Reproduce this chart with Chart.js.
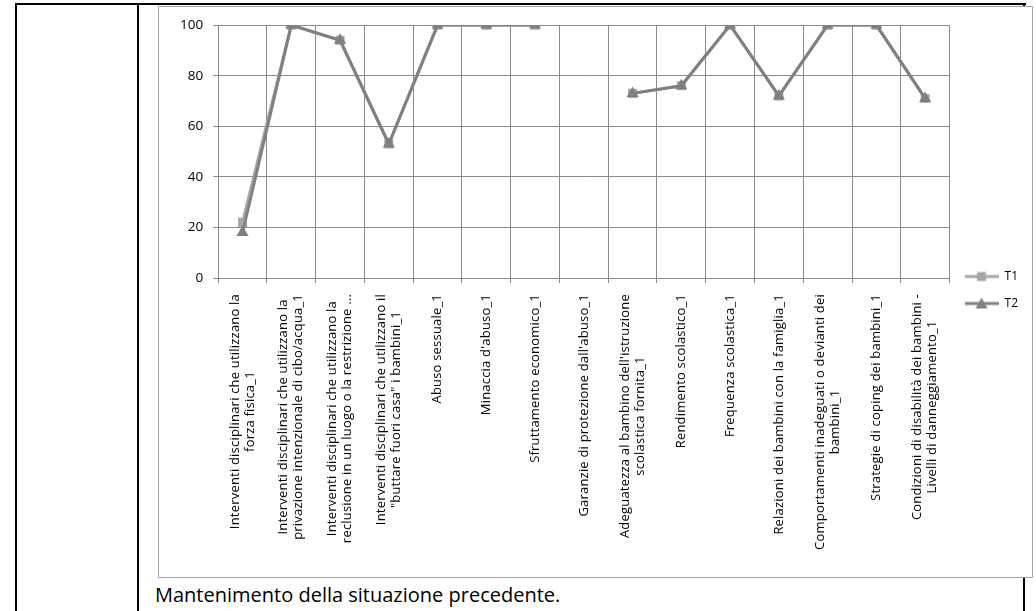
<!DOCTYPE html>
<html>
<head>
<meta charset="utf-8">
<script src="https://cdn.jsdelivr.net/npm/chart.js@4.4.1/dist/chart.umd.min.js"></script>
<style>
  html, body { margin: 0; padding: 0; background: #fff; }
  body { width: 1036px; height: 611px; position: relative; overflow: hidden; font-family: 'Open Sans', sans-serif; }
  .rule { position: absolute; background: #000; }
  #box { position: absolute; left: 158px; top: 6px; width: 873px; height: 570px; border: 1px solid #a6a6a6; background: #fff; }
  #caption { position: absolute; left: 155px; top: 581px; font-size: 20px; color: #000; white-space: nowrap; }
</style>
</head>
<body>
<div class="rule" style="left:15px;top:3px;width:1011px;height:2px"></div>
<div class="rule" style="left:15px;top:3px;width:2px;height:608px"></div>
<div class="rule" style="left:137px;top:3px;width:2px;height:608px"></div>
<div class="rule" style="left:1023px;top:3px;width:2px;height:608px"></div>
<div id="box"><canvas id="lineChart"></canvas></div>
<div id="caption">Mantenimento della situazione precedente.</div>
<script>
// categorie (etichette asse X, già spezzate su più righe come nel grafico originale)
const categories = [
    ['Interventi disciplinari che utilizzano la', 'forza fisica_1'],
    ['Interventi disciplinari che utilizzano la', 'privazione intenzionale di cibo/acqua_1'],
    ['Interventi disciplinari che utilizzano la', 'reclusione in un luogo o la restrizione ...'],
    ['Interventi disciplinari che utilizzano il', '"buttare fuori casa" i bambini_1'],
    'Abuso sessuale_1',
    "Minaccia d'abuso_1",
    'Sfruttamento economico_1',
    "Garanzie di protezione dall'abuso_1",
    ["Adeguatezza al bambino dell'istruzione", 'scolastica fornita_1'],
    'Rendimento scolastico_1',
    'Frequenza scolastica_1',
    'Relazioni dei bambini con la famiglia_1',
    ['Comportamenti inadeguati o devianti dei', 'bambini_1'],
    'Strategie di coping dei bambini_1',
    ['Condizioni di disabilità dei bambini -', 'Livelli di danneggiamento_1']
];
const seriesNames = ['T1', 'T2'];
const t1Values = [22, 100, 94, 53, 100, 100, 100, null, 73, 76, 100, 72, 100, 100, 71];
const t2Values = [18, 100, 94, 53, 100, 100, 100, null, 73, 76, 100, 72, 100, 100, 71];
const yTicks = [0, 20, 40, 60, 80, 100];

const colT1 = '#a6a6a6';
const colT2 = '#808080';
const gridCol = '#8a8a8a';
const labelFont = { family: "'Open Sans', sans-serif", size: 13, lineHeight: 15 / 13 };
const labelGap = 11; // distanza etichette X dai segni di graduazione

// simbolo legenda: linea + marcatore
function legendSymbol(color, shape) {
    const c = document.createElement('canvas');
    c.width = 34; c.height = 14;
    const g = c.getContext('2d');
    g.strokeStyle = color; g.lineWidth = 3;
    g.beginPath(); g.moveTo(0, 7); g.lineTo(34, 7); g.stroke();
    g.fillStyle = color;
    if (shape === 'rect') {
        g.fillRect(12.5, 2.5, 9, 9);
    } else {
        g.beginPath(); g.moveTo(17, 1); g.lineTo(23, 12); g.lineTo(11, 12); g.closePath(); g.fill();
    }
    return c;
}

// etichette asse X ruotate con righe centrate (come Excel)
const centeredXLabels = {
    id: 'centeredXLabels',
    afterDraw(chart) {
        const scale = chart.scales.x;
        const ctx = chart.ctx;
        const tl = scale.options.grid.tickLength;
        ctx.save();
        ctx.font = `${labelFont.size}px ${labelFont.family}`;
        ctx.letterSpacing = '0.2px';
        ctx.fillStyle = '#000';
        ctx.textAlign = 'center';
        ctx.textBaseline = 'middle';
        const lh = labelFont.size * labelFont.lineHeight;
        categories.forEach((lab, i) => {
            const lines = Array.isArray(lab) ? lab : [lab];
            const maxW = Math.max(...lines.map(l => ctx.measureText(l).width));
            const x = scale.getPixelForTick(i);
            const y = scale.top + tl + labelGap;
            ctx.save();
            ctx.translate(x, y);
            ctx.rotate(-Math.PI / 2);
            lines.forEach((l, j) => {
                ctx.fillText(l, -maxW / 2, (j - (lines.length - 1) / 2) * lh);
            });
            ctx.restore();
        });
        ctx.restore();
    }
};

const ctx = document.getElementById('lineChart').getContext('2d');
const lineChart = new Chart(ctx, {
    type: 'line',
    data: {
        labels: categories,
        datasets: [{
            label: seriesNames[0],
            data: t1Values,
            borderColor: colT1,
            backgroundColor: colT1,
            borderWidth: 3,
            pointStyle: 'rect',
            pointRadius: 6.4,
            pointBorderWidth: 0,
            spanGaps: false,
            order: 1
        }, {
            label: seriesNames[1],
            data: t2Values,
            borderColor: colT2,
            backgroundColor: colT2,
            borderWidth: 3,
            pointStyle: 'triangle',
            pointRadius: 7,
            pointBorderWidth: 0,
            spanGaps: false,
            order: 0
        }]
    },
    options: {
        responsive: true,
        maintainAspectRatio: false,
        animation: false,
        layout: { padding: { left: 11, top: 9, right: 4, bottom: 37 } },
        scales: {
            x: {
                type: 'category',
                offset: true,
                grid: { offset: true, color: gridCol, tickLength: 5 },
                border: { color: gridCol },
                ticks: {
                    autoSkip: false, minRotation: 90, maxRotation: 90,
                    font: labelFont, color: 'rgba(0,0,0,0)', padding: labelGap
                }
            },
            y: {
                min: 0, max: 100,
                afterBuildTicks: (axis) => { axis.ticks = yTicks.map(v => ({ value: v })); },
                grid: { color: gridCol, tickLength: 5 },
                border: { color: gridCol },
                ticks: { color: '#000', font: { family: "'Open Sans', sans-serif", size: 13.5 }, padding: 10 }
            }
        },
        plugins: {
            legend: {
                position: 'right',
                title: { display: true, text: '', font: { size: 12 }, padding: 4.8 },
                labels: {
                    usePointStyle: true,
                    pointStyleWidth: 34,
                    padding: 15,
                    color: '#000',
                    font: { family: "'Open Sans', sans-serif", size: 12 },
                    generateLabels: (chart) => [
                        { text: seriesNames[0], pointStyle: legendSymbol(colT1, 'rect'), datasetIndex: 0, fontColor: '#000', lineWidth: 0 },
                        { text: seriesNames[1], pointStyle: legendSymbol(colT2, 'triangle'), datasetIndex: 1, fontColor: '#000', lineWidth: 0 }
                    ]
                }
            },
            tooltip: { enabled: false }
        }
    },
    plugins: [centeredXLabels]
});
</script>
</body>
</html>
